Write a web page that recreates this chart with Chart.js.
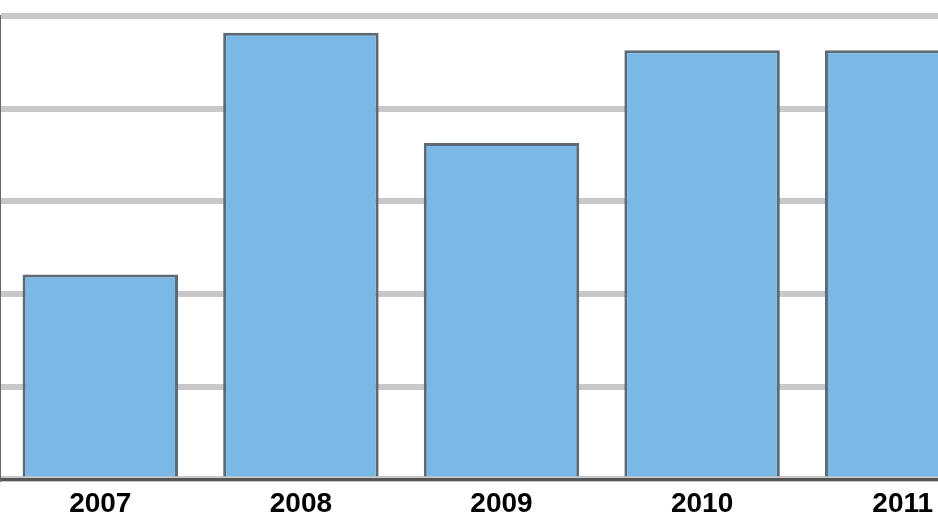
<!DOCTYPE html>
<html>
<head>
<meta charset="utf-8">
<script src="https://cdn.jsdelivr.net/npm/chart.js@4"></script>
<style>
  html, body { margin: 0; padding: 0; background: #fff; overflow: hidden; }
  #wrap { width: 1003px; height: 527px; }
</style>
</head>
<body>
<div id="wrap"><canvas id="barChart" width="1003" height="527"></canvas></div>
<script>
// values (axis has no printed numbers, 0..5 grid)
const years = ['2007', '2008', '2009', '2010', '2011'];
const values = [2.21, 4.82, 3.63, 4.63, 4.63];
const yTicks = [0, 1, 2, 3, 4, 5];

const chart = new Chart(document.getElementById('barChart'), {
  type: 'bar',
  data: {
    labels: years,
    datasets: [{
      data: values,
      backgroundColor: '#7ab8e6',
      borderColor: '#5c6a76',
      borderWidth: 3,
      borderSkipped: 'bottom',
      categoryPercentage: 1,
      barPercentage: 0.775
    }]
  },
  options: {
    responsive: false,
    animation: false,
    layout: { padding: { top: 16, left: 0, right: 0, bottom: 6 } },
    plugins: {
      legend: { display: false },
      tooltip: { enabled: false }
    },
    scales: {
      x: {
        grid: { display: false },
        border: { display: true, color: '#555', width: 3 },
        ticks: {
          color: '#000',
          padding: 0,
          maxRotation: 0,
          font: { family: 'Liberation Sans', weight: 'bold', size: 28 }
        }
      },
      y: {
        min: yTicks[0],
        max: yTicks[yTicks.length - 1],
        afterBuildTicks: (axis) => { axis.ticks = yTicks.map(v => ({ value: v })); },
        ticks: { display: false },
        grid: { color: '#c8c8c8', lineWidth: 6, drawTicks: false },
        border: { display: true, color: '#666', width: 2 }
      }
    }
  }
});
</script>
</body>
</html>
